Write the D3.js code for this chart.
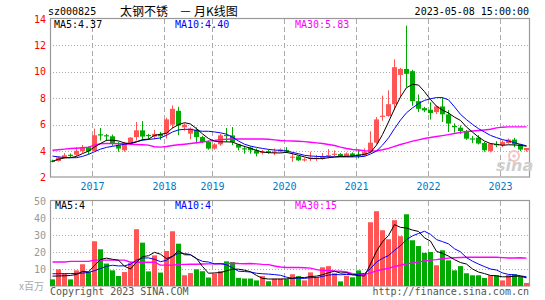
<!DOCTYPE html>
<html><head><meta charset="utf-8">
<script src="https://cdn.jsdelivr.net/npm/d3@7"></script>
<style>body{margin:0;background:#fff}svg{display:block}</style>
</head><body><svg id="c" width="545" height="300"></svg>
<script>
// ---- data (monthly K-line, 80 months, index 0..79) ----
const monthIndex = d3.range(80);
const openP = [3.27,3.25,3.5,3.72,3.72,4.0,4.3,4.0,5.27,5.2,
5.12,4.44,4.06,4.57,5.06,5.57,5.22,5.1,5.3,5.32,
6.0,7.05,5.8,5.32,5.62,5.06,4.69,4.19,4.51,5.22,
5.19,4.51,4.21,4.26,4.06,3.91,4.0,3.93,3.98,4.08,
3.54,3.6,3.34,3.48,3.46,3.45,3.66,3.76,3.78,3.62,
3.82,3.75,3.65,3.9,4.64,6.63,6.65,7.55,9.77,10.22,
10.05,7.78,7.25,7.13,6.95,7.38,6.78,5.9,5.77,5.52,
4.96,5.02,4.61,4.0,4.53,4.44,4.61,4.87,4.51,4.06];
const closeP = [3.23,3.52,3.68,3.7,4.02,4.3,4.0,5.2,5.23,5.17,
4.57,4.19,4.57,5.02,5.57,5.1,5.18,5.3,5.12,6.4,
7.2,5.95,6.0,5.7,5.06,4.69,4.19,4.51,5.19,5.18,
4.69,4.26,4.17,4.06,3.81,3.95,3.88,3.97,4.12,4.04,
3.58,3.3,3.38,3.52,3.5,3.6,3.7,3.8,3.62,3.82,
3.62,3.7,3.92,4.64,6.4,6.68,7.55,10.35,10.22,9.85,
7.78,7.2,7.08,6.88,7.38,6.78,6.08,5.85,5.52,4.94,
4.92,4.57,4.06,4.57,4.49,4.69,4.87,4.51,4.11,4.23];
const highP = [3.35,3.6,3.85,3.82,4.3,4.45,4.35,5.7,5.75,5.3,
5.25,4.7,4.7,5.05,6.2,6.27,5.3,5.6,5.45,6.53,
7.46,7.35,6.1,5.8,5.8,5.15,4.8,4.6,5.3,5.75,
5.82,4.55,4.4,4.35,4.2,4.1,4.1,4.2,4.2,4.3,
3.9,3.65,3.5,3.95,3.7,3.85,4.15,4.05,3.85,3.9,
3.9,4.1,4.2,5.5,6.57,8.2,8.6,10.95,10.3,13.5,
10.15,8.29,7.35,7.7,7.45,8.05,7.1,6.1,5.95,5.6,
5.15,5.2,4.7,4.62,4.75,4.8,4.95,5.0,4.55,4.23];
const lowP = [3.15,3.2,3.45,3.55,3.6,3.85,3.75,3.98,4.8,4.75,
4.4,3.95,3.95,4.45,4.8,4.8,4.85,4.9,4.85,4.95,
5.7,5.2,5.55,4.9,4.57,4.6,4.1,4.1,4.4,4.7,
4.45,4.05,3.8,3.8,3.6,3.75,3.8,3.7,3.9,3.85,
3.18,3.25,3.2,3.25,3.25,3.35,3.45,3.6,3.55,3.55,
3.55,3.45,3.6,3.85,4.55,6.3,6.6,7.1,8.1,8.84,
7.43,6.95,6.95,6.38,6.8,6.2,5.44,5.4,5.3,4.85,
4.6,4.5,3.95,3.9,4.3,4.3,4.55,4.3,4.0,3.95];
const ma5 = [3.23,3.38,3.48,3.5,3.6,3.81,4.0,4.31,4.57,4.82,
4.82,4.77,4.61,4.57,4.69,4.87,4.9,5.19,5.27,5.35,
5.75,6.0,6.15,6.05,5.7,5.3,4.95,4.75,4.7,4.7,
4.68,4.5,4.35,4.22,4.05,3.93,3.88,3.86,3.86,3.9,
3.8,3.68,3.56,3.43,3.43,3.43,3.5,3.55,3.6,3.6,
3.62,3.68,3.75,3.9,4.45,5.25,6.2,7.2,8.1,8.8,
9.05,9.0,8.5,7.9,7.4,7.1,6.88,6.57,6.32,5.82,
5.44,5.06,4.76,4.57,4.51,4.44,4.48,4.46,4.44,4.37];
const ma10 = [3.62,3.56,3.52,3.5,3.5,3.6,3.75,3.95,4.15,4.28,
4.36,4.44,4.51,4.6,4.72,4.82,4.88,4.93,5.0,5.19,
5.45,5.6,5.65,5.65,5.55,5.5,5.5,5.45,5.38,5.28,
5.05,4.76,4.52,4.38,4.28,4.2,4.13,4.08,4.05,4.0,
3.9,3.8,3.68,3.63,3.6,3.58,3.57,3.56,3.56,3.56,
3.56,3.57,3.6,3.78,4.0,4.45,5.0,5.7,6.35,6.9,
7.27,7.6,7.84,7.96,8.05,8.05,7.88,7.35,6.78,6.38,
6.02,5.7,5.44,5.19,5.02,4.87,4.76,4.64,4.51,4.40];
const ma30 = [4.06,4.1,4.15,4.2,4.22,4.25,4.3,4.45,4.55,4.57,
4.57,4.55,4.55,4.52,4.5,4.48,4.45,4.33,4.3,4.35,
4.42,4.48,4.52,4.57,4.63,4.69,4.75,4.8,4.87,4.9,
4.92,4.92,4.92,4.92,4.92,4.92,4.9,4.85,4.8,4.77,
4.76,4.75,4.72,4.67,4.62,4.57,4.5,4.42,4.3,4.2,
4.12,4.08,4.03,4.0,4.03,4.1,4.2,4.35,4.5,4.62,
4.75,4.85,4.95,5.03,5.1,5.17,5.25,5.33,5.42,5.48,
5.52,5.56,5.6,5.65,5.76,5.81,5.83,5.83,5.83,5.83];
const volume = [3.9,9.8,7.3,3.9,9.2,12.8,8.2,26.3,21.6,13.2,
9.2,5.9,8.2,13.5,33.4,25.5,8.6,18,7.9,20.6,
32.2,24.9,6.3,7.6,9.8,8.7,5.0,7.3,8.8,14.5,
14.1,4.8,4.4,4.4,3.3,5.8,2.8,4.3,4.3,4.0,
6.9,5.8,3.3,8.0,5.1,11.0,11.7,7.5,2.7,6.0,
5.1,9.2,6.5,37.5,44.0,32.8,27.5,38.7,29.3,42.2,
26.9,23.5,19.5,20.0,12.2,21.0,15.1,9.2,11.7,7.5,
6.3,6.3,4.7,6.3,6.3,3.3,6.4,6.9,5.5,1.8];
const vma5 = [5.8,5.9,6.0,6.2,6.8,8.6,8.3,12.1,15.6,16.4,
15.7,15.2,11.6,10.0,14.0,17.3,17.8,19.8,18.7,16.1,
17.5,20.7,18.4,18.3,16.2,11.5,7.5,7.7,7.9,8.9,
9.9,9.9,9.3,8.4,6.2,4.5,4.1,4.1,4.1,4.2,
4.5,5.1,4.9,5.6,5.8,6.6,7.8,8.7,7.6,7.8,
6.6,6.1,5.9,12.9,20.5,26.0,29.7,36.1,34.5,34.1,
32.9,32.1,28.3,26.4,20.4,19.2,17.6,15.5,13.8,12.9,
10.0,8.2,7.3,6.2,6.0,5.4,5.4,5.8,5.7,4.8];
const vma10 = [7.2,7.2,7.3,7.3,7.4,7.6,8.0,9.0,10.3,11.6,
12.2,11.8,11.9,12.8,15.2,16.5,16.5,15.7,14.3,15.1,
17.4,19.3,19.1,18.5,16.1,14.5,14.1,13.0,13.1,12.5,
10.7,8.7,8.5,8.2,7.5,7.2,7.0,6.7,6.3,5.2,
4.5,4.6,4.5,4.9,5.0,5.6,6.4,6.8,6.6,6.8,
6.6,7.0,7.3,10.2,14.1,16.3,17.9,21.0,23.7,27.3,
29.5,30.9,32.2,30.4,27.3,26.1,24.8,21.9,20.1,16.7,
14.6,12.9,11.4,10.0,9.4,7.7,6.8,6.6,6.0,5.4];
const vma30 = [14.1,14.1,14.1,14.5,14.5,14.5,14.5,15.2,15.2,15.2,
15.2,15.2,15.2,14.0,14.0,14.0,14.0,14.0,12.3,12.3,
12.3,12.7,12.7,12.8,12.8,12.9,13.0,13.0,13.1,13.1,
13.4,13.2,13.1,13.2,13.0,12.7,12.6,11.8,11.2,10.9,
10.9,10.9,10.7,10.5,9.6,9.1,9.2,8.8,8.7,8.2,
7.3,6.75,6.76,7.75,8.9,9.7,10.4,11.5,12.2,13.1,
13.5,14.2,14.7,15.2,15.5,16.0,16.4,16.6,16.8,16.9,
16.9,16.9,17.0,16.9,16.9,16.7,16.5,16.5,16.6,16.4];
const priceTicks = [2,4,6,8,10,12,14];
const volTicks = [10,20,30,40,50];
const yearLabels = ["2017","2018","2019","2020","2021","2022","2023"];
const yearIndex = [7,19,27,39,51,63,75];

// ---- drawing ----
const RED = "#ff5555", GREEN = "#00aa00";
const MONO = "'DejaVu Sans Mono', monospace";
const CJK = "'Noto Sans CJK SC', 'DejaVu Sans Mono', sans-serif";
const svg = d3.select("#c");
svg.append("rect").attr("width",545).attr("height",300).attr("fill","#fff");

const x = d3.scaleLinear().domain([0,80]).range([50,530]);
const yP = d3.scaleLinear().domain([2,14]).range([177.5,19]);
const yV = d3.scaleLinear().domain([0,50]).range([286,201]);
const cx = i => x(i) + 2.5;

function panel(yScale, top, bottom, gridTicks){
  const g = svg.append("g");
  g.selectAll("line.h").data(gridTicks).join("line")
    .attr("x1",50).attr("x2",529.5)
    .attr("y1",d=>Math.round(yScale(d))+0.5).attr("y2",d=>Math.round(yScale(d))+0.5)
    .attr("stroke","#aaa").attr("stroke-dasharray","1,2");
  g.selectAll("line.v").data(yearIndex).join("line")
    .attr("x1",d=>x(d)+0.5).attr("x2",d=>x(d)+0.5)
    .attr("y1",top).attr("y2",bottom)
    .attr("stroke","#aaa").attr("stroke-dasharray","5,3");
  return g;
}
panel(yP, 19, 177, [4,6,8,10,12]);
panel(yV, 201, 286, [10,20,30,40]);

// borders
svg.append("rect").attr("x",50.5).attr("y",18.5).attr("width",479).attr("height",158.5)
  .attr("fill","none").attr("stroke","#999").attr("stroke-width",1.2);
svg.append("rect").attr("x",50.5).attr("y",200.5).attr("width",479).attr("height",85.5)
  .attr("fill","none").attr("stroke","#999").attr("stroke-width",1.2);

// sina watermark
const wm = svg.append("g");
wm.append("circle").attr("cx",514).attr("cy",156).attr("r",5).attr("fill","none")
  .attr("stroke","#f2c4c4").attr("stroke-width",2);
wm.append("circle").attr("cx",514).attr("cy",156).attr("r",1.8).attr("fill","#f2c4c4");
wm.append("text").attr("x",496).attr("y",171).text("sina")
  .attr("font-family","'DejaVu Sans', sans-serif").attr("font-size",16)
  .attr("font-weight","bold").attr("font-style","italic").attr("fill","#cfcfcf");

// candles
const isUp = i => closeP[i] >= openP[i];
const cg = svg.append("g");
cg.selectAll("line").data(monthIndex).join("line")
  .attr("x1",i=>Math.floor(cx(i))+0.5).attr("x2",i=>Math.floor(cx(i))+0.5)
  .attr("y1",i=>yP(highP[i])).attr("y2",i=>yP(lowP[i]))
  .attr("stroke",i=>isUp(i)?RED:GREEN).attr("stroke-width",1);
cg.selectAll("rect").data(monthIndex).join("rect")
  .attr("x",i=>x(i)).attr("width",5)
  .attr("y",i=>yP(Math.max(openP[i],closeP[i])))
  .attr("height",i=>Math.max(1.2, Math.abs(yP(openP[i])-yP(closeP[i]))))
  .attr("fill",i=>isUp(i)?RED:GREEN);

// volume bars
svg.append("g").selectAll("rect").data(monthIndex).join("rect")
  .attr("x",i=>x(i)).attr("width",5)
  .attr("y",i=>yV(volume[i])).attr("height",i=>yV(0)-yV(volume[i]))
  .attr("fill",i=>isUp(i)?RED:GREEN);

// MA lines
function maLine(arr, yScale, color, w){
  svg.append("path").datum(monthIndex)
    .attr("d", d3.line().x(i=>cx(i)).y(i=>yScale(arr[i])))
    .attr("fill","none").attr("stroke",color).attr("stroke-width",w);
}
maLine(ma30, yP, "#ff00ff", 1.4);
maLine(ma10, yP, "#0000ff", 1);
maLine(ma5, yP, "#000000", 1);
maLine(vma30, yV, "#ff00ff", 1.4);
maLine(vma10, yV, "#0000ff", 1);
maLine(vma5, yV, "#000000", 1);

// axis labels
svg.append("g").selectAll("text").data(priceTicks).join("text")
  .attr("x",46).attr("y",d=>yP(d)+3.5).attr("text-anchor","end")
  .attr("font-family",MONO).attr("font-size",10).attr("fill","#ff0000").text(d=>d);
svg.append("g").selectAll("text").data(volTicks).join("text")
  .attr("x",46).attr("y",d=>yV(d)+3.5).attr("text-anchor","end")
  .attr("font-family",MONO).attr("font-size",10).attr("fill","#999").text(d=>d);
svg.append("g").selectAll("text").data(yearIndex).join("text")
  .attr("x",d=>x(d)+0.5).attr("y",190).attr("text-anchor","middle")
  .attr("font-family",MONO).attr("font-size",10).attr("fill","#0078c8")
  .text((d,i)=>yearLabels[i]);

// header
function txt(s,xx,yy,opt){
  const t = svg.append("text").attr("x",xx).attr("y",yy).text(s)
    .attr("font-family",opt.f||MONO).attr("font-size",opt.s||10).attr("fill",opt.c||"#000");
  if(opt.a) t.attr("text-anchor",opt.a);
  return t;
}
txt("sz000825",48,15,{});
txt("太钢不锈",120,16,{f:CJK,s:12});
txt("一",180.5,16,{f:CJK,s:10});
txt("月K线图",194,16,{f:CJK,s:12});
txt("2023-05-08 15:00:00",529,15,{a:"end"});
txt("MA5:4.37",54,28,{});
txt("MA10:4.40",175,28,{c:"#0000ff"});
txt("MA30:5.83",295,28,{c:"#ff00ff"});
txt("MA5:4",55,209,{});
txt("MA10:4",175,209,{c:"#0000ff"});
txt("MA30:15",295,209,{c:"#ff00ff"});
txt("x百万",19,290,{f:CJK,c:"#aaa"});
txt("Copyright 2023 SINA.COM",50,295,{c:"#555"});
txt("http://finance.sina.com.cn",529,295,{a:"end",c:"#555"});
</script></body></html>
